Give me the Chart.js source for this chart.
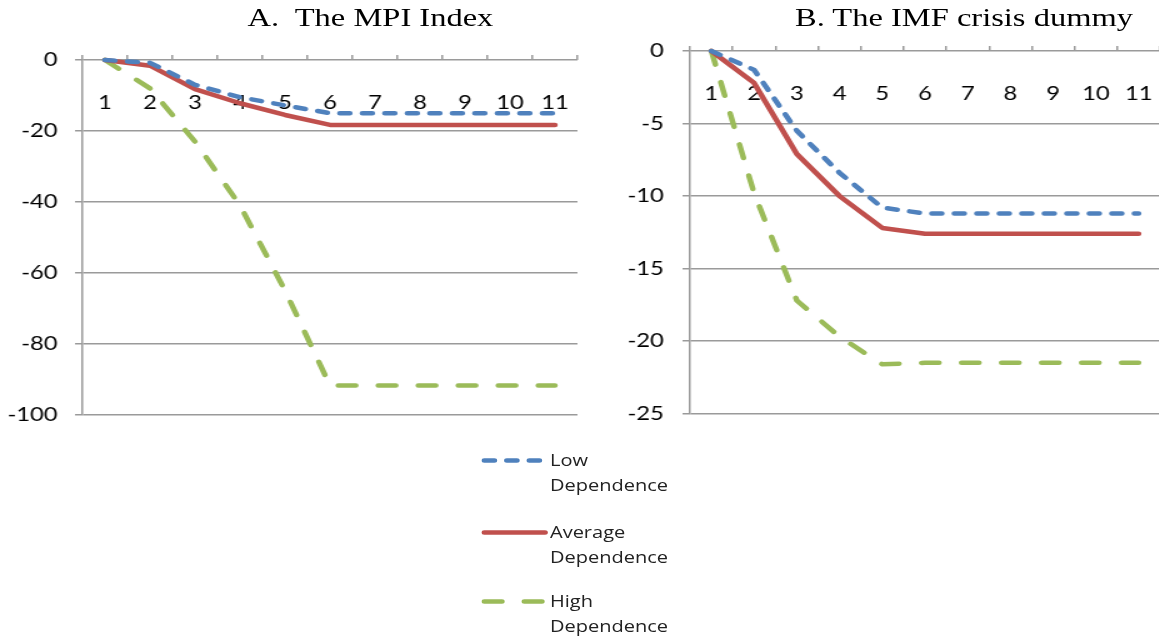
<!DOCTYPE html>
<html lang="en">
<head>
<meta charset="UTF-8" />
<title>MPI Index and IMF crisis dummy</title>
<script src="https://cdn.jsdelivr.net/npm/chart.js@4.4.1/dist/chart.umd.min.js"></script>
<style>
  body { margin: 0; background: #fff; overflow: hidden; }
  /* the source picture is stretched sideways, so the whole page is too */
  #page { position: relative; width: 928px; height: 636px; transform: scaleX(1.25); transform-origin: 0 0; }
  .title { position: absolute; top: 3px; font: 26px "Liberation Serif", "Times New Roman", serif; line-height: 30px; white-space: pre; color: #000; }
  canvas { position: absolute; top: 0; }
  .item { position: absolute; left: 385px; }
  .item svg { position: absolute; left: 0; }
  .item div { position: absolute; left: 55px; top: 0; width: 100px; font: 16px "Open Sans", sans-serif; line-height: 25px; color: #222; }
</style>
</head>
<body>
<div id="page">
  <div class="title" style="left:198px">A.  The MPI Index</div>
  <div class="title" style="left:636px">B. The IMF crisis dummy</div>
  <canvas id="chartA" width="480" height="440" style="left:0"></canvas>
  <canvas id="chartB" width="448" height="440" style="left:480px"></canvas>
  <div id="legend"></div>
</div>

<script>
  // data
  const periods = ['1', '2', '3', '4', '5', '6', '7', '8', '9', '10', '11'];
  const seriesNames = ['Low Dependence', 'Average Dependence', 'High Dependence'];

  const mpiLow  = [0, -0.8, -7, -10.5, -12.8, -15, -15, -15, -15, -15, -15];
  const mpiAvg  = [0, -1.6, -8.2, -12.2, -15.5, -18.3, -18.3, -18.3, -18.3, -18.3, -18.3];
  const mpiHigh = [0, -8, -23, -41, -65, -91.8, -91.8, -91.8, -91.8, -91.8, -91.8];

  const imfLow  = [0, -1.3, -5.5, -8.4, -10.8, -11.2, -11.2, -11.2, -11.2, -11.2, -11.2];
  const imfAvg  = [0, -2.2, -7.1, -10, -12.2, -12.6, -12.6, -12.6, -12.6, -12.6, -12.6];
  const imfHigh = [0, -9.8, -17.2, -19.7, -21.6, -21.5, -21.5, -21.5, -21.5, -21.5, -21.5];

  const mpiTicks = [0, -20, -40, -60, -80, -100];
  const imfTicks = [0, -5, -10, -15, -20, -25];

  // styles
  const lineColors = ['#4f81bd', '#c0504d', '#9bbb59'];
  const lineDashes = [[8, 10], [], [14, 18]];
  const gridColor = '#9a9a9a';

  Chart.defaults.font.family = 'Lato';
  Chart.defaults.color = '#000';

  function makeChart(id, series, ticks, yWidth, yPad, pad) {
    return new Chart(document.getElementById(id), {
      type: 'line',
      data: {
        labels: periods,
        datasets: series.map((vals, i) => ({
          label: seriesNames[i],
          data: vals,
          borderColor: lineColors[i],
          borderDash: lineDashes[i],
          borderWidth: 4.5,
          borderCapStyle: 'round',
          borderJoinStyle: 'round',
          pointRadius: 0,
          tension: 0,
          fill: false,
          clip: false
        }))
      },
      options: {
        responsive: false,
        animation: false,
        layout: { padding: pad },
        plugins: { legend: { display: false }, tooltip: { enabled: false } },
        scales: {
          x: {
            type: 'category',
            position: { y: 0 },
            offset: true,
            // axis sits on the zero line, so it takes no room in the layout
            afterFit: s => { s.height = 0; s.paddingLeft = 0; s.paddingRight = 0; },
            grid: { drawOnChartArea: false, tickLength: -5, color: gridColor, lineWidth: 1.5, offset: true },
            border: { display: false },
            ticks: { font: { size: 19 }, padding: 36, maxRotation: 0, autoSkip: false }
          },
          y: {
            min: ticks[ticks.length - 1],
            max: ticks[0],
            afterFit: s => { s.width = yWidth; },
            ticks: { stepSize: ticks[0] - ticks[1], font: { size: 19 }, padding: yPad },
            grid: { color: gridColor, lineWidth: 1.5, tickLength: 6 },
            border: { color: gridColor, width: 1.5 }
          }
        }
      }
    });
  }

  makeChart('chartA', [mpiLow, mpiAvg, mpiHigh], mpiTicks, 66, 14, { left: 0, right: 18, top: 60, bottom: 24 });
  makeChart('chartB', [imfLow, imfAvg, imfHigh], imfTicks, 72, 15, { left: 0, right: 0, top: 51, bottom: 17 });

  // legend under panel A
  const legendTops = [448, 520, 589];
  const legend = document.getElementById('legend');
  seriesNames.forEach((name, i) => {
    const item = document.createElement('div');
    item.className = 'item';
    item.style.top = legendTops[i] + 'px';
    item.innerHTML =
      '<svg width="54" height="24" style="top:0">' +
      '<line x1="2.5" y1="12.5" x2="51" y2="12.5" stroke="' + lineColors[i] + '" stroke-width="4.5" stroke-linecap="round"' +
      (lineDashes[i].length ? ' stroke-dasharray="' + lineDashes[i].join(' ') + '"' : '') + '/></svg>' +
      '<div>' + name + '</div>';
    legend.appendChild(item);
  });
</script>
</body>
</html>
